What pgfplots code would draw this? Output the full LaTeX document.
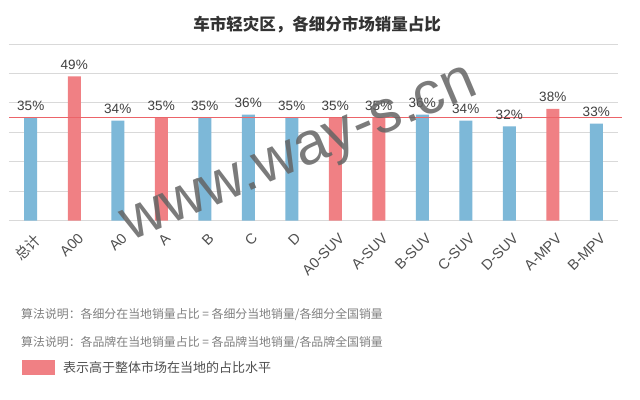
\documentclass[border=0pt]{standalone}
\usepackage{pgfplots}
\pgfplotsset{compat=1.18}
\usepackage{fontspec}
\setmainfont{Liberation Sans}
\newfontfamily\cjk{Noto Sans CJK SC}
\definecolor{barblue}{RGB}{125,184,216}
\definecolor{barpink}{RGB}{240,128,132}
\definecolor{refred}{RGB}{236,100,105}
\definecolor{gridgray}{RGB}{217,217,217}
\definecolor{lbl}{RGB}{64,64,64}
\definecolor{tickc}{RGB}{80,80,80}
\definecolor{note}{RGB}{128,128,128}
\definecolor{wm}{RGB}{100,100,100}
\begin{document}
\begin{tikzpicture}[x=1pt,y=1pt]
\path[use as bounding box,fill=white] (0,0) rectangle (640,399);
\begin{axis}[
  at={(9pt,178.3pt)}, anchor=south west,
  scale only axis, width=609pt, height=176.7pt,
  xmin=-0.5, xmax=13.5, ymin=0, ymax=60,
  ytick={0,10,...,60}, yticklabels={},
  ymajorgrids, grid style={line width=1pt, draw=gridgray},
  axis line style={draw=none}, major tick length=0pt,
  xtick={0,...,13},
  xticklabels={{\cjk 总计},A00,A0,A,B,C,D,A0-SUV,A-SUV,B-SUV,C-SUV,D-SUV,A-MPV,B-MPV},
  xticklabel style={rotate=45, anchor=north east, font=\fontsize{14.5}{16}\selectfont, text=tickc, inner sep=1pt, yshift=-9pt, xshift=-5pt},
  ybar, bar width=13pt,
  /pgf/number format/assume math mode=true,
  every node near coord/.append style={font=\fontsize{13.5}{15}\selectfont, text=lbl, yshift=3.5pt},
  clip=false,
]
\addplot[fill=barblue, draw=none, bar shift=0pt, nodes near coords={\pgfmathprintnumber{\pgfplotspointmeta}\%}]
  coordinates {(0,35) (2,34) (4,35) (5,36) (6,35) (9,36) (10,34) (11,32) (13,33)};
\addplot[fill=barpink, draw=none, bar shift=0pt, nodes near coords={\pgfmathprintnumber{\pgfplotspointmeta}\%}]
  coordinates {(1,49) (3,35) (7,35) (8,35) (12,38)};
\fill[refred] ([yshift=-0.8pt]axis cs:-0.5,35) rectangle ([yshift=0.8pt]axis cs:13.6,35);
\end{axis}
\node[font=\cjk\bfseries\fontsize{16.5}{18}\selectfont, text=black!80] at (317,374) {车市轻灾区，各细分市场销量占比};
\node[font=\fontsize{60}{62}\selectfont, text=wm, text opacity=0.85, rotate=23, anchor=base west, inner sep=0pt] at (130,157) {www.way-s.cn};
\node[font=\cjk\fontsize{11.9}{13}\selectfont, text=note, anchor=west, inner sep=0pt] at (21,84) {算法说明：各细分在当地销量占比 = 各细分当地销量/各细分全国销量};
\node[font=\cjk\fontsize{11.9}{13}\selectfont, text=note, anchor=west, inner sep=0pt] at (21,56) {算法说明：各品牌在当地销量占比 = 各品牌当地销量/各品牌全国销量};
\fill[barpink] (22,24) rectangle (55,39);
\node[font=\cjk\fontsize{13}{15}\selectfont, text=tickc, anchor=west, inner sep=0pt] at (63,31) {表示高于整体市场在当地的占比水平};
\end{tikzpicture}
\end{document}
